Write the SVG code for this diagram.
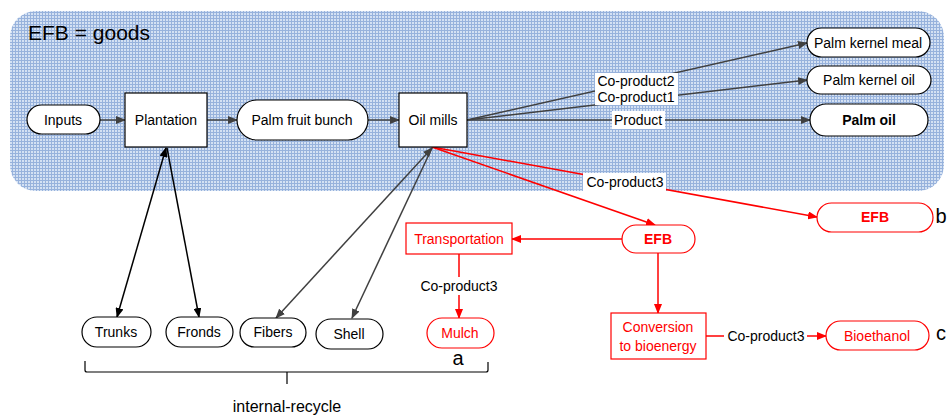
<svg xmlns="http://www.w3.org/2000/svg" width="947" height="417" viewBox="0 0 947 417">
<defs>
<pattern id="grid" width="3" height="3" patternUnits="userSpaceOnUse">
<rect width="3" height="3" fill="#d4e1f3"/>
<path d="M0 0.5H3M0.5 0V3" stroke="#97b2dc" stroke-width="1" fill="none"/>
</pattern>
<marker id="ag" markerWidth="10" markerHeight="8" refX="9" refY="4" orient="auto-start-reverse" markerUnits="userSpaceOnUse"><path d="M0 0L10 4L0 8Z" fill="#404040"/></marker>
<marker id="ak" markerWidth="10" markerHeight="8" refX="9" refY="4" orient="auto-start-reverse" markerUnits="userSpaceOnUse"><path d="M0 0L10 4L0 8Z" fill="#000"/></marker>
<marker id="ar" markerWidth="10" markerHeight="8" refX="9" refY="4" orient="auto-start-reverse" markerUnits="userSpaceOnUse"><path d="M0 0L10 4L0 8Z" fill="#ff0000"/></marker>
</defs>
<style>
text{font-family:"Liberation Sans",Arial,sans-serif;font-size:14px;fill:#000}
.c{text-anchor:middle}
.n{fill:#fff;stroke:#000;stroke-width:1.2}
.nr{fill:#fff;stroke:#ff0000;stroke-width:1.2}
.r{fill:#ff0000}
.b{font-weight:bold}
.g{stroke:#404040;stroke-width:1.5;fill:none}
.k{stroke:#000;stroke-width:1.5;fill:none}
.rd{stroke:#ff0000;stroke-width:1.5;fill:none}
.lb{fill:#fff}
.big{font-size:20px}
</style>
<rect id="goods-area" x="10" y="11" width="934" height="180" rx="26" fill="url(#grid)"/>
<text x="28" y="40" style="font-size:21px">EFB = goods</text>

<g id="connectors">
<line class="g" x1="100" y1="120" x2="125" y2="120" marker-end="url(#ag)"/>
<line class="g" x1="207" y1="120" x2="237" y2="120" marker-end="url(#ag)"/>
<line class="g" x1="368" y1="120" x2="399" y2="120" marker-end="url(#ag)"/>
<line class="g" x1="467" y1="120" x2="807" y2="43" marker-end="url(#ag)"/>
<line class="g" x1="467" y1="120" x2="807" y2="80" marker-end="url(#ag)"/>
<line class="g" x1="467" y1="120" x2="810" y2="120" marker-end="url(#ag)"/>
<line class="k" x1="166" y1="148" x2="117" y2="317" marker-start="url(#ak)" marker-end="url(#ak)"/>
<line class="k" x1="167" y1="148" x2="199" y2="317" marker-end="url(#ak)"/>
<line class="g" x1="432" y1="148" x2="276" y2="318" marker-start="url(#ag)" marker-end="url(#ag)"/>
<line class="g" x1="432" y1="148" x2="352" y2="318" marker-end="url(#ag)"/>
<line class="rd" x1="432" y1="147" x2="655" y2="225" marker-end="url(#ar)"/>
<line class="rd" x1="432" y1="147" x2="817" y2="217" marker-end="url(#ar)"/>
<line class="rd" x1="622" y1="239" x2="512" y2="239" marker-end="url(#ar)"/>
<line class="rd" x1="459" y1="254" x2="459" y2="318" marker-end="url(#ar)"/>
<line class="rd" x1="658" y1="253" x2="658" y2="313" marker-end="url(#ar)"/>
<line class="rd" x1="706" y1="336" x2="826" y2="336" marker-end="url(#ar)"/>
<rect class="lb" x="595" y="73" width="83" height="16"/>
<text class="c" x="636" y="86">Co-product2</text>
<rect class="lb" x="595" y="89" width="83" height="16"/>
<text class="c" x="636" y="102">Co-product1</text>
<rect class="lb" x="612" y="111" width="53" height="18"/>
<text class="c" x="638" y="125">Product</text>
<rect class="lb" x="583" y="173" width="83" height="18"/>
<text class="c" x="625" y="187">Co-product3</text>
<rect class="lb" x="418" y="277" width="82" height="18"/>
<text class="c" x="459" y="291">Co-product3</text>
<rect class="lb" x="724" y="327" width="83" height="18"/>
<text class="c" x="766" y="341">Co-product3</text>
</g>

<g id="inputs"><rect class="n" x="27" y="105" width="73" height="29" rx="14.5"/><text class="c" x="63" y="125">Inputs</text></g>
<g id="plantation"><rect class="n" x="125" y="93" width="82" height="54"/><text class="c" x="166" y="125">Plantation</text></g>
<g id="palm-fruit-bunch"><rect class="n" x="237" y="100" width="131" height="40" rx="20"/><text class="c" x="302" y="125">Palm fruit bunch</text></g>
<g id="oil-mills"><rect class="n" x="399" y="93" width="68" height="54"/><text class="c" x="433" y="125">Oil mills</text></g>
<g id="palm-kernel-meal"><rect class="n" x="807" y="28" width="123" height="29" rx="14.5"/><text class="c" x="868" y="48">Palm kernel meal</text></g>
<g id="palm-kernel-oil"><rect class="n" x="807" y="66" width="124" height="28" rx="14"/><text class="c" x="869" y="85">Palm kernel oil</text></g>
<g id="palm-oil"><rect class="n" x="810" y="104" width="118" height="32" rx="16"/><text class="c b" x="869" y="125">Palm oil</text></g>
<g id="efb-b"><rect class="nr" x="817" y="203" width="116" height="29" rx="14.5"/><text class="c b r" x="875" y="222">EFB</text></g>
<g id="efb"><rect class="nr" x="622" y="225" width="73" height="28" rx="14"/><text class="c b r" x="658" y="244">EFB</text></g>
<g id="transportation"><rect class="nr" x="406" y="223" width="106" height="31"/><text class="c r" x="459" y="244">Transportation</text></g>
<g id="mulch"><rect class="nr" x="427" y="318" width="67" height="30" rx="15"/><text class="c r" x="460" y="338">Mulch</text></g>
<g id="conversion"><rect class="nr" x="611" y="313" width="95" height="46"/><text class="c r" x="658" y="332">Conversion</text><text class="c r" x="658" y="351">to bioenergy</text></g>
<g id="bioethanol"><rect class="nr" x="826" y="321" width="103" height="29" rx="14.5"/><text class="c r" x="877" y="341">Bioethanol</text></g>
<g id="trunks"><rect class="n" x="82" y="317" width="69" height="30" rx="15"/><text class="c" x="116" y="337">Trunks</text></g>
<g id="fronds"><rect class="n" x="166" y="317" width="67" height="30" rx="15"/><text class="c" x="199" y="337">Fronds</text></g>
<g id="fibers"><rect class="n" x="240" y="318" width="66" height="29" rx="14.5"/><text class="c" x="273" y="337">Fibers</text></g>
<g id="shell"><rect class="n" x="316" y="319" width="67" height="30" rx="15"/><text class="c" x="349" y="339">Shell</text></g>

<text class="c big" x="458" y="365">a</text>
<text class="c big" x="941" y="223">b</text>
<text class="c big" x="941" y="340">c</text>

<g id="brace">
<path d="M85 361V370Q85 372 87 372H486Q488 372 488 370V362M287 372V384" fill="none" stroke="#000" stroke-width="1.2"/>
<text class="c" x="287" y="412" style="font-size:16px">internal-recycle</text>
</g>
</svg>
